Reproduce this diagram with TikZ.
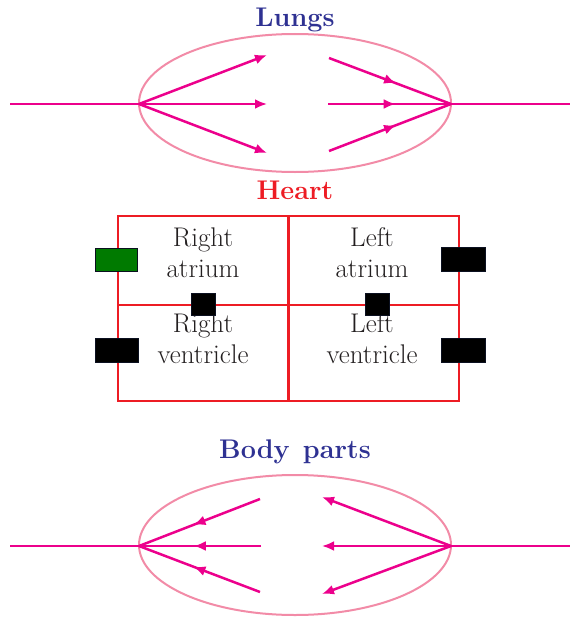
\documentclass[tikz,border=0pt]{standalone}
\usetikzlibrary{shapes.geometric,arrows.meta,decorations.markings}
\definecolor{flow}{HTML}{EC008C}
\definecolor{organc}{HTML}{F28BA7}
\definecolor{titleblue}{HTML}{2E3192}
\definecolor{heartred}{HTML}{ED1C24}
\definecolor{valvegreen}{HTML}{007A00}
\definecolor{valveedge}{HTML}{0B1020}
\definecolor{txt}{HTML}{231F20}
\begin{document}
\begin{tikzpicture}[x=1pt,y=-1pt,
  organ/.style={draw=organc, line width=2pt, ellipse, minimum width=312pt, minimum height=138pt, inner sep=0pt},
  flowline/.style={draw=flow, line width=2.5pt},
  endarrow/.style={flowline, -{Latex[length=12pt,width=10pt]}},
  midarrow/.style={flowline, postaction={decorate}, decoration={markings, mark=at position 0.55 with {\arrow{Latex[length=12pt,width=10pt]}}}},
  title/.style={font=\fontsize{27}{30}\selectfont\bfseries, inner sep=0pt},
  chamber/.style={draw=heartred, line width=2pt, minimum width=171pt, minimum height=89pt, inner sep=0pt},
  chambertext/.style={font=\fontsize{27}{31}\selectfont, text=txt, align=center, inner sep=0pt},
  valve/.style={draw=valveedge, line width=1pt, fill=black, inner sep=0pt},
]
\useasboundingbox (0,0) rectangle (570,618);

% ---------- Lungs ----------
\node[title, text=titleblue] (lungstitle) at (295,20) {Lungs};
\node[organ] (lungs) at (295,103) {};
\coordinate (lin) at (10,104);
\coordinate (lhubL) at (139,104);
\coordinate (lhubR) at (451,104);
\coordinate (lout) at (570,104);
\coordinate (la1) at (267,55);
\coordinate (la2) at (267,104);
\coordinate (la3) at (267,153);
\coordinate (lb1) at (329,58);
\coordinate (lb2) at (328,104);
\coordinate (lb3) at (329,151);
\draw[flowline] (lin) -- (lhubL);
\draw[flowline] (lhubR) -- (lout);
\draw[endarrow] (lhubL) -- (la1);
\draw[endarrow] (lhubL) -- (la2);
\draw[endarrow] (lhubL) -- (la3);
\draw[midarrow] (lb1) -- (lhubR);
\draw[midarrow] (lb2) -- (lhubR);
\draw[midarrow] (lb3) -- (lhubR);

% ---------- Heart ----------
\node[title, text=heartred] (hearttitle) at (295,190) {Heart};
\node[chamber] (ra) at (203.5,260.5) {};
\node[chamber] (la) at (373.5,260.5) {};
\node[chamber, minimum height=96pt] (rv) at (203.5,353) {};
\node[chamber, minimum height=96pt] (lv) at (373.5,353) {};
\node[chambertext] (ratext) at (203,253) {Right\\atrium};
\node[chambertext] (latext) at (372,253) {Left\\atrium};
\node[chambertext] (rvtext) at (203,339) {Right\\ventricle};
\node[chambertext] (lvtext) at (372,339) {Left\\ventricle};

\node[valve, fill=valvegreen, minimum width=42pt, minimum height=23pt] (v1) at (116,259.5) {};
\node[valve, minimum width=43pt, minimum height=24pt] (v2) at (116.5,350) {};
\node[valve, minimum width=24pt, minimum height=22pt] (v3) at (203,304) {};
\node[valve, minimum width=24pt, minimum height=22pt] (v4) at (377,304) {};
\node[valve, minimum width=44pt, minimum height=24pt] (v5) at (463,259) {};
\node[valve, minimum width=44pt, minimum height=24pt] (v6) at (463,350) {};

% ---------- Body parts ----------
\node[title, text=titleblue] (bodytitle) at (295,452) {Body\hspace{3pt} parts};
\node[organ, minimum height=140pt] (body) at (295,545) {};
\coordinate (bin) at (10,546);
\coordinate (bhubL) at (139,546);
\coordinate (bhubR) at (451,546);
\coordinate (bout) at (570,546);
\coordinate (ba1) at (260,499);
\coordinate (ba2) at (261,546);
\coordinate (ba3) at (260,592);
\coordinate (bb1) at (322,497);
\coordinate (bb2) at (322,546);
\coordinate (bb3) at (322,594);
\draw[flowline] (bin) -- (bhubL);
\draw[flowline] (bhubR) -- (bout);
\draw[midarrow] (ba1) -- (bhubL);
\draw[midarrow] (ba2) -- (bhubL);
\draw[midarrow] (ba3) -- (bhubL);
\draw[endarrow] (bhubR) -- (bb1);
\draw[endarrow] (bhubR) -- (bb2);
\draw[endarrow] (bhubR) -- (bb3);
\end{tikzpicture}
\end{document}
